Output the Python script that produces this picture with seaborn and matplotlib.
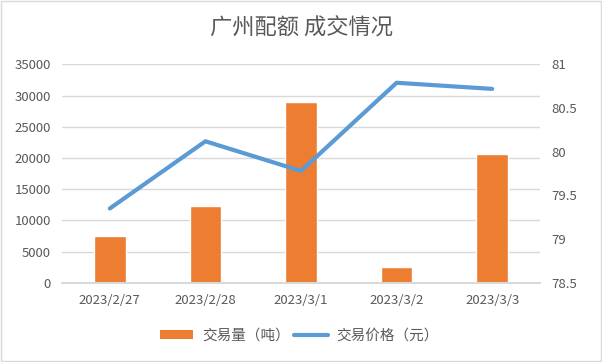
import seaborn as sns
import matplotlib.pyplot as plt
import pandas as pd
from matplotlib.patches import Rectangle, Patch
from matplotlib.lines import Line2D
from matplotlib.ticker import FormatStrFormatter, FixedLocator

# data
dates = ['2023/2/27', '2023/2/28', '2023/3/1', '2023/3/2', '2023/3/3']
volume = [7500, 12300, 29000, 2500, 20600]
price = [79.35, 80.12, 79.78, 80.79, 80.72]

bar_label = '交易量（吨）'
line_label = '交易价格（元）'
title = '广州配额 成交情况'

df = pd.DataFrame({'date': dates, 'volume': volume, 'price': price})

sns.set_theme(style='white')
plt.rcParams['font.family'] = ['Noto Sans CJK SC', 'DejaVu Sans']

text_color = '#595959'
grid_color = '#D9D9D9'
orange = '#ED7D31'
blue = '#5B9BD5'

fig = plt.figure(figsize=(6.02, 3.62), dpi=100)
ax = fig.add_axes([0.103, 0.219, 0.794, 0.603])

sns.barplot(data=df, x='date', y='volume', color=orange, width=0.33,
            saturation=1, ax=ax, zorder=2)
ax.set_ylim(0, 35000)
ax.set_yticks(range(0, 35001, 5000))
ax.yaxis.grid(True, color=grid_color, linewidth=1)
ax.set_axisbelow(True)
ax.set_xlabel('')
ax.set_ylabel('')

ax2 = ax.twinx()
sns.pointplot(data=df, x='date', y='price', color=blue, markers='',
              linewidth=3, ax=ax2)
ax2.set_ylim(78.5, 81)
ax2.set_yticks([78.5, 79, 79.5, 80, 80.5, 81])
ax2.yaxis.set_major_formatter(FormatStrFormatter('%g'))
ax2.set_ylabel('')
ax2.set_xlim(-0.5, len(dates) - 0.5)
ax.set_xlim(-0.5, len(dates) - 0.5)

for a in (ax, ax2):
    for s in ('left', 'right', 'top'):
        a.spines[s].set_visible(False)
    a.spines['bottom'].set_color(grid_color)
    a.tick_params(axis='y', length=0, labelsize=9.5, labelcolor=text_color, pad=8)

ax.tick_params(axis='x', which='major', length=0, labelsize=9.5, labelcolor=text_color, pad=8)
ax.xaxis.set_minor_locator(FixedLocator([i - 0.5 for i in range(len(dates) + 1)]))
ax.tick_params(axis='x', which='minor', length=5, color=grid_color, width=1, direction='out')

fig.text(0.5, 0.923, title, ha='center', va='center', fontsize=16, color=text_color)

handles = [Patch(facecolor=orange, edgecolor='none'),
           Line2D([0], [0], color=blue, linewidth=3)]
fig.legend(handles, [bar_label, line_label], loc='center', bbox_to_anchor=(0.497, 0.072),
           ncol=2, frameon=False, fontsize=10.5, labelcolor=text_color,
           handlelength=2.3, handleheight=0.6, columnspacing=0.3, handletextpad=0.6)

fig.patches.append(Rectangle((0.001, 0.002), 0.997, 0.995, transform=fig.transFigure,
                             fill=False, edgecolor=grid_color, linewidth=1))

fig.savefig('out.png', dpi=100)
